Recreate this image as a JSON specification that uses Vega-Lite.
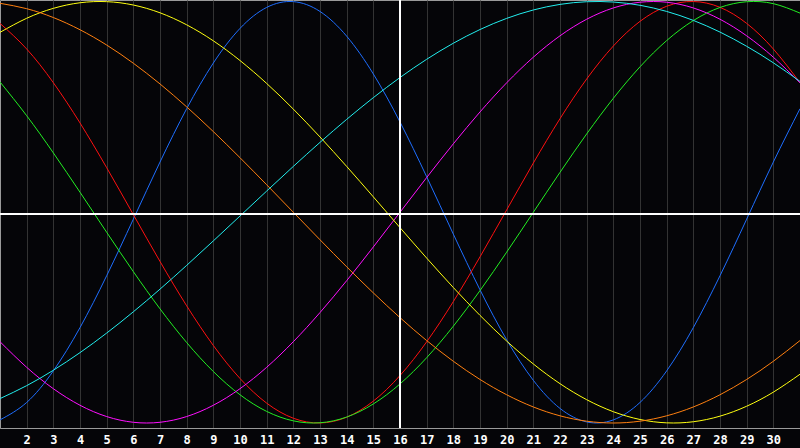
{
  "$schema": "https://vega.github.io/schema/vega-lite/v6.json",
  "width": 800,
  "height": 428,
  "padding": {"left": 0, "top": 0, "right": 0, "bottom": 20},
  "autosize": "none",
  "background": "#050508",
  "config": {"view": {"stroke": "#9a9a9a", "strokeWidth": 1}},
  "data": {"values": [
    {"d":1,"c":"physical","v":-0.9852},{"d":2,"c":"physical","v":-0.9025},{"d":3,"c":"physical","v":-0.7527},{"d":4,"c":"physical","v":-0.5473},{"d":5,"c":"physical","v":-0.3012},{"d":6,"c":"physical","v":-0.0328},{"d":7,"c":"physical","v":0.2382},{"d":8,"c":"physical","v":0.4913},{"d":9,"c":"physical","v":0.7081},{"d":10,"c":"physical","v":0.8723},{"d":11,"c":"physical","v":0.9719},{"d":12,"c":"physical","v":0.9994},{"d":13,"c":"physical","v":0.9527},{"d":14,"c":"physical","v":0.8354},{"d":15,"c":"physical","v":0.6562},{"d":16,"c":"physical","v":0.4283},{"d":17,"c":"physical","v":0.1685},{"d":18,"c":"physical","v":-0.1037},{"d":19,"c":"physical","v":-0.3681},{"d":20,"c":"physical","v":-0.6053},{"d":21,"c":"physical","v":-0.7975},{"d":22,"c":"physical","v":-0.9308},{"d":23,"c":"physical","v":-0.9949},{"d":24,"c":"physical","v":-0.9852},{"d":25,"c":"physical","v":-0.9025},{"d":26,"c":"physical","v":-0.7527},{"d":27,"c":"physical","v":-0.5473},{"d":28,"c":"physical","v":-0.3012},{"d":29,"c":"physical","v":-0.0328},{"d":30,"c":"physical","v":0.2382},{"d":31,"c":"physical","v":0.4913},
    {"d":1,"c":"emotional","v":0.8961},{"d":2,"c":"emotional","v":0.7747},{"d":3,"c":"emotional","v":0.6148},{"d":4,"c":"emotional","v":0.4238},{"d":5,"c":"emotional","v":0.2115},{"d":6,"c":"emotional","v":-0.0112},{"d":7,"c":"emotional","v":-0.2334},{"d":8,"c":"emotional","v":-0.444},{"d":9,"c":"emotional","v":-0.6322},{"d":10,"c":"emotional","v":-0.7887},{"d":11,"c":"emotional","v":-0.9058},{"d":12,"c":"emotional","v":-0.9774},{"d":13,"c":"emotional","v":-0.9999},{"d":14,"c":"emotional","v":-0.9724},{"d":15,"c":"emotional","v":-0.8961},{"d":16,"c":"emotional","v":-0.7747},{"d":17,"c":"emotional","v":-0.6148},{"d":18,"c":"emotional","v":-0.4238},{"d":19,"c":"emotional","v":-0.2115},{"d":20,"c":"emotional","v":0.0112},{"d":21,"c":"emotional","v":0.2334},{"d":22,"c":"emotional","v":0.444},{"d":23,"c":"emotional","v":0.6322},{"d":24,"c":"emotional","v":0.7887},{"d":25,"c":"emotional","v":0.9058},{"d":26,"c":"emotional","v":0.9774},{"d":27,"c":"emotional","v":0.9999},{"d":28,"c":"emotional","v":0.9724},{"d":29,"c":"emotional","v":0.8961},{"d":30,"c":"emotional","v":0.7747},{"d":31,"c":"emotional","v":0.6148},
    {"d":1,"c":"intellectual","v":0.6182},{"d":2,"c":"intellectual","v":0.4582},{"d":3,"c":"intellectual","v":0.2817},{"d":4,"c":"intellectual","v":0.095},{"d":5,"c":"intellectual","v":-0.095},{"d":6,"c":"intellectual","v":-0.2817},{"d":7,"c":"intellectual","v":-0.4582},{"d":8,"c":"intellectual","v":-0.6182},{"d":9,"c":"intellectual","v":-0.7557},{"d":10,"c":"intellectual","v":-0.866},{"d":11,"c":"intellectual","v":-0.945},{"d":12,"c":"intellectual","v":-0.9898},{"d":13,"c":"intellectual","v":-0.9989},{"d":14,"c":"intellectual","v":-0.9718},{"d":15,"c":"intellectual","v":-0.9096},{"d":16,"c":"intellectual","v":-0.8146},{"d":17,"c":"intellectual","v":-0.6901},{"d":18,"c":"intellectual","v":-0.5406},{"d":19,"c":"intellectual","v":-0.3717},{"d":20,"c":"intellectual","v":-0.1893},{"d":21,"c":"intellectual","v":0},{"d":22,"c":"intellectual","v":0.1893},{"d":23,"c":"intellectual","v":0.3717},{"d":24,"c":"intellectual","v":0.5406},{"d":25,"c":"intellectual","v":0.6901},{"d":26,"c":"intellectual","v":0.8146},{"d":27,"c":"intellectual","v":0.9096},{"d":28,"c":"intellectual","v":0.9718},{"d":29,"c":"intellectual","v":0.9989},{"d":30,"c":"intellectual","v":0.9898},{"d":31,"c":"intellectual","v":0.945},
    {"d":1,"c":"intuitive","v":-0.6142},{"d":2,"c":"intuitive","v":-0.7357},{"d":3,"c":"intuitive","v":-0.8372},{"d":4,"c":"intuitive","v":-0.9158},{"d":5,"c":"intuitive","v":-0.9694},{"d":6,"c":"intuitive","v":-0.9966},{"d":7,"c":"intuitive","v":-0.9966},{"d":8,"c":"intuitive","v":-0.9694},{"d":9,"c":"intuitive","v":-0.9158},{"d":10,"c":"intuitive","v":-0.8372},{"d":11,"c":"intuitive","v":-0.7357},{"d":12,"c":"intuitive","v":-0.6142},{"d":13,"c":"intuitive","v":-0.4759},{"d":14,"c":"intuitive","v":-0.3247},{"d":15,"c":"intuitive","v":-0.1646},{"d":16,"c":"intuitive","v":0},{"d":17,"c":"intuitive","v":0.1646},{"d":18,"c":"intuitive","v":0.3247},{"d":19,"c":"intuitive","v":0.4759},{"d":20,"c":"intuitive","v":0.6142},{"d":21,"c":"intuitive","v":0.7357},{"d":22,"c":"intuitive","v":0.8372},{"d":23,"c":"intuitive","v":0.9158},{"d":24,"c":"intuitive","v":0.9694},{"d":25,"c":"intuitive","v":0.9966},{"d":26,"c":"intuitive","v":0.9966},{"d":27,"c":"intuitive","v":0.9694},{"d":28,"c":"intuitive","v":0.9158},{"d":29,"c":"intuitive","v":0.8372},{"d":30,"c":"intuitive","v":0.7357},{"d":31,"c":"intuitive","v":0.6142},
    {"d":1,"c":"aesthetic","v":0.8536},{"d":2,"c":"aesthetic","v":0.9204},{"d":3,"c":"aesthetic","v":0.9675},{"d":4,"c":"aesthetic","v":0.994},{"d":5,"c":"aesthetic","v":0.9993},{"d":6,"c":"aesthetic","v":0.9833},{"d":7,"c":"aesthetic","v":0.9464},{"d":8,"c":"aesthetic","v":0.8893},{"d":9,"c":"aesthetic","v":0.8134},{"d":10,"c":"aesthetic","v":0.7199},{"d":11,"c":"aesthetic","v":0.6112},{"d":12,"c":"aesthetic","v":0.4894},{"d":13,"c":"aesthetic","v":0.3572},{"d":14,"c":"aesthetic","v":0.2174},{"d":15,"c":"aesthetic","v":0.073},{"d":16,"c":"aesthetic","v":-0.073},{"d":17,"c":"aesthetic","v":-0.2174},{"d":18,"c":"aesthetic","v":-0.3572},{"d":19,"c":"aesthetic","v":-0.4894},{"d":20,"c":"aesthetic","v":-0.6112},{"d":21,"c":"aesthetic","v":-0.7199},{"d":22,"c":"aesthetic","v":-0.8134},{"d":23,"c":"aesthetic","v":-0.8893},{"d":24,"c":"aesthetic","v":-0.9464},{"d":25,"c":"aesthetic","v":-0.9833},{"d":26,"c":"aesthetic","v":-0.9993},{"d":27,"c":"aesthetic","v":-0.994},{"d":28,"c":"aesthetic","v":-0.9675},{"d":29,"c":"aesthetic","v":-0.9204},{"d":30,"c":"aesthetic","v":-0.8536},{"d":31,"c":"aesthetic","v":-0.7686},
    {"d":1,"c":"awareness","v":0.9914},{"d":2,"c":"awareness","v":0.9659},{"d":3,"c":"awareness","v":0.9239},{"d":4,"c":"awareness","v":0.866},{"d":5,"c":"awareness","v":0.7934},{"d":6,"c":"awareness","v":0.7071},{"d":7,"c":"awareness","v":0.6088},{"d":8,"c":"awareness","v":0.5},{"d":9,"c":"awareness","v":0.3827},{"d":10,"c":"awareness","v":0.2588},{"d":11,"c":"awareness","v":0.1305},{"d":12,"c":"awareness","v":0},{"d":13,"c":"awareness","v":-0.1305},{"d":14,"c":"awareness","v":-0.2588},{"d":15,"c":"awareness","v":-0.3827},{"d":16,"c":"awareness","v":-0.5},{"d":17,"c":"awareness","v":-0.6088},{"d":18,"c":"awareness","v":-0.7071},{"d":19,"c":"awareness","v":-0.7934},{"d":20,"c":"awareness","v":-0.866},{"d":21,"c":"awareness","v":-0.9239},{"d":22,"c":"awareness","v":-0.9659},{"d":23,"c":"awareness","v":-0.9914},{"d":24,"c":"awareness","v":-1},{"d":25,"c":"awareness","v":-0.9914},{"d":26,"c":"awareness","v":-0.9659},{"d":27,"c":"awareness","v":-0.9239},{"d":28,"c":"awareness","v":-0.866},{"d":29,"c":"awareness","v":-0.7934},{"d":30,"c":"awareness","v":-0.7071},{"d":31,"c":"awareness","v":-0.6088},
    {"d":1,"c":"spiritual","v":-0.8842},{"d":2,"c":"spiritual","v":-0.8228},{"d":3,"c":"spiritual","v":-0.7497},{"d":4,"c":"spiritual","v":-0.6661},{"d":5,"c":"spiritual","v":-0.5733},{"d":6,"c":"spiritual","v":-0.4724},{"d":7,"c":"spiritual","v":-0.3649},{"d":8,"c":"spiritual","v":-0.2521},{"d":9,"c":"spiritual","v":-0.1359},{"d":10,"c":"spiritual","v":-0.0178},{"d":11,"c":"spiritual","v":0.1005},{"d":12,"c":"spiritual","v":0.2176},{"d":13,"c":"spiritual","v":0.3315},{"d":14,"c":"spiritual","v":0.4407},{"d":15,"c":"spiritual","v":0.5438},{"d":16,"c":"spiritual","v":0.6393},{"d":17,"c":"spiritual","v":0.7258},{"d":18,"c":"spiritual","v":0.802},{"d":19,"c":"spiritual","v":0.867},{"d":20,"c":"spiritual","v":0.9199},{"d":21,"c":"spiritual","v":0.9598},{"d":22,"c":"spiritual","v":0.9863},{"d":23,"c":"spiritual","v":0.9989},{"d":24,"c":"spiritual","v":0.9975},{"d":25,"c":"spiritual","v":0.9821},{"d":26,"c":"spiritual","v":0.9529},{"d":27,"c":"spiritual","v":0.9103},{"d":28,"c":"spiritual","v":0.8549},{"d":29,"c":"spiritual","v":0.7875},{"d":30,"c":"spiritual","v":0.7092},{"d":31,"c":"spiritual","v":0.6209}
  ]},
  "layer": [
    {
      "mark": {"type": "line", "interpolate": "natural", "strokeWidth": 1, "clip": true},
      "encoding": {
        "x": {"field": "d", "type": "quantitative",
          "scale": {"domain": [1, 31], "nice": false, "zero": false},
          "axis": {"values": [2,3,4,5,6,7,8,9,10,11,12,13,14,15,16,17,18,19,20,21,22,23,24,25,26,27,28,29,30],
            "title": null, "grid": true, "gridColor": "#333333", "gridWidth": 1,
            "domain": true, "domainColor": "#9a9a9a", "ticks": false,
            "labelColor": "#ffffff", "labelFont": "DejaVu Sans Mono", "labelFontWeight": "bold", "labelFontSize": 12,
            "labelPadding": 6, "labelFlush": false, "labelOverlap": false}},
        "y": {"field": "v", "type": "quantitative",
          "scale": {"domain": [-1.0237, 1.0071], "nice": false, "zero": false}, "axis": null},
        "color": {"field": "c", "type": "nominal",
          "scale": {"domain": ["spiritual", "awareness", "aesthetic", "intuitive", "intellectual", "emotional", "physical"],
            "range": ["#22eeee", "#ff8010", "#ffff10", "#ff10ff", "#22ee22", "#ff1010", "#1e6eff"]},
          "legend": null}
      }
    },
    {
      "mark": {"type": "rule", "color": "#ffffff", "strokeWidth": 1},
      "encoding": {"x": {"datum": 16, "type": "quantitative",
          "axis": {"values": [2,3,4,5,6,7,8,9,10,11,12,13,14,15,16,17,18,19,20,21,22,23,24,25,26,27,28,29,30],
            "title": null, "grid": true, "gridColor": "#333333", "gridWidth": 1,
            "domain": true, "domainColor": "#9a9a9a", "ticks": false,
            "labelColor": "#ffffff", "labelFont": "DejaVu Sans Mono", "labelFontWeight": "bold", "labelFontSize": 12,
            "labelPadding": 6, "labelFlush": false, "labelOverlap": false}}}
    },
    {
      "mark": {"type": "rule", "color": "#ffffff", "strokeWidth": 1},
      "encoding": {"y": {"datum": -0.0083, "type": "quantitative", "axis": null}}
    }
  ]
}
